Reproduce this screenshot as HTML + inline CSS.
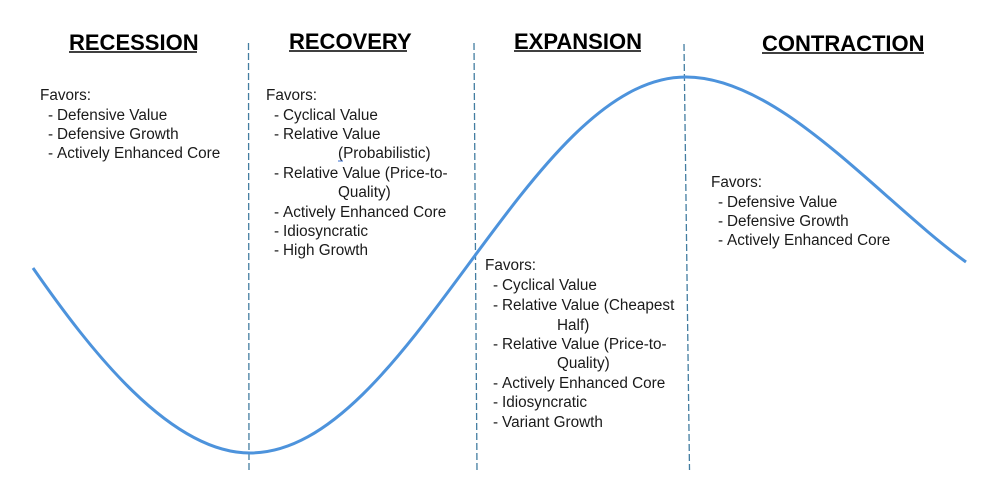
<!DOCTYPE html>
<html>
<head>
<meta charset="utf-8">
<style>
  html, body { margin:0; padding:0; background:#fff; }
  body { width:1000px; height:498px; overflow:hidden; }
  svg { display:block; }
  .t { font-family:"Liberation Sans", sans-serif; font-weight:bold; font-size:22px; fill:#000; }
  .b { font-family:"Liberation Sans", sans-serif; font-size:15.3px; fill:#1a1a1a; }
</style>
</head>
<body>
<svg width="1000" height="498" viewBox="0 0 1000 498" xmlns="http://www.w3.org/2000/svg">
  <!-- dashed dividers -->
  <g stroke="#2f6f97" stroke-width="1.3" stroke-dasharray="7 3" fill="none" opacity="0.9">
    <line x1="248.5" y1="43" x2="249" y2="470"/>
    <line x1="474" y1="43" x2="477" y2="472"/>
    <line x1="684" y1="44" x2="689.5" y2="470"/>
  </g>

  <!-- cycle curve -->
  <path d="M33,268 C90,350 170,453 250,453 C408.8,453 527.2,77 686,77 C780,77 880,200 966,262"
        fill="none" stroke="#4d93dc" stroke-width="3"/>

  <!-- titles -->
  <text class="t" x="69" y="50">RECESSION</text>
  <line x1="69" y1="52" x2="197" y2="52" stroke="#000" stroke-width="1.6"/>
  <text class="t" x="289" y="49">RECOVERY</text>
  <line x1="289" y1="51" x2="407" y2="51" stroke="#000" stroke-width="1.6"/>
  <text class="t" x="514" y="49">EXPANSION</text>
  <line x1="514" y1="51" x2="641" y2="51" stroke="#000" stroke-width="1.6"/>
  <text class="t" x="762" y="51">CONTRACTION</text>
  <line x1="762" y1="53" x2="924" y2="53" stroke="#000" stroke-width="1.6"/>

  <!-- Recession -->
  <g class="b">
    <text x="40" y="100">Favors:</text>
    <text x="48" y="120">-</text><text x="57" y="120">Defensive Value</text>
    <text x="48" y="139">-</text><text x="57" y="139">Defensive Growth</text>
    <text x="48" y="158">-</text><text x="57" y="158">Actively Enhanced Core</text>
  </g>

  <!-- Recovery -->
  <g class="b">
    <text x="266" y="100">Favors:</text>
    <text x="274" y="120">-</text><text x="283" y="120">Cyclical Value</text>
    <text x="274" y="139">-</text><text x="283" y="139">Relative Value</text>
    <text x="338" y="158">(Probabilistic)</text>
    <text x="274" y="178">-</text><text x="283" y="178">Relative Value (Price-to-</text>
    <text x="338" y="197">Quality)</text>
    <text x="274" y="217">-</text><text x="283" y="217">Actively Enhanced Core</text>
    <text x="274" y="236">-</text><text x="283" y="236">Idiosyncratic</text>
    <text x="274" y="255">-</text><text x="283" y="255">High Growth</text>
  </g>
  <line x1="338" y1="161" x2="343" y2="161" stroke="#3a6fd0" stroke-width="1"/>

  <!-- Expansion -->
  <g class="b">
    <text x="485" y="270">Favors:</text>
    <text x="493" y="290">-</text><text x="502" y="290">Cyclical Value</text>
    <text x="493" y="310">-</text><text x="502" y="310">Relative Value (Cheapest</text>
    <text x="557" y="330">Half)</text>
    <text x="493" y="349">-</text><text x="502" y="349">Relative Value (Price-to-</text>
    <text x="557" y="368">Quality)</text>
    <text x="493" y="388">-</text><text x="502" y="388">Actively Enhanced Core</text>
    <text x="493" y="407">-</text><text x="502" y="407">Idiosyncratic</text>
    <text x="493" y="427">-</text><text x="502" y="427">Variant Growth</text>
  </g>

  <!-- Contraction -->
  <g class="b">
    <text x="711" y="187">Favors:</text>
    <text x="718" y="207">-</text><text x="727" y="207">Defensive Value</text>
    <text x="718" y="226">-</text><text x="727" y="226">Defensive Growth</text>
    <text x="718" y="245">-</text><text x="727" y="245">Actively Enhanced Core</text>
  </g>
</svg>
</body>
</html>
